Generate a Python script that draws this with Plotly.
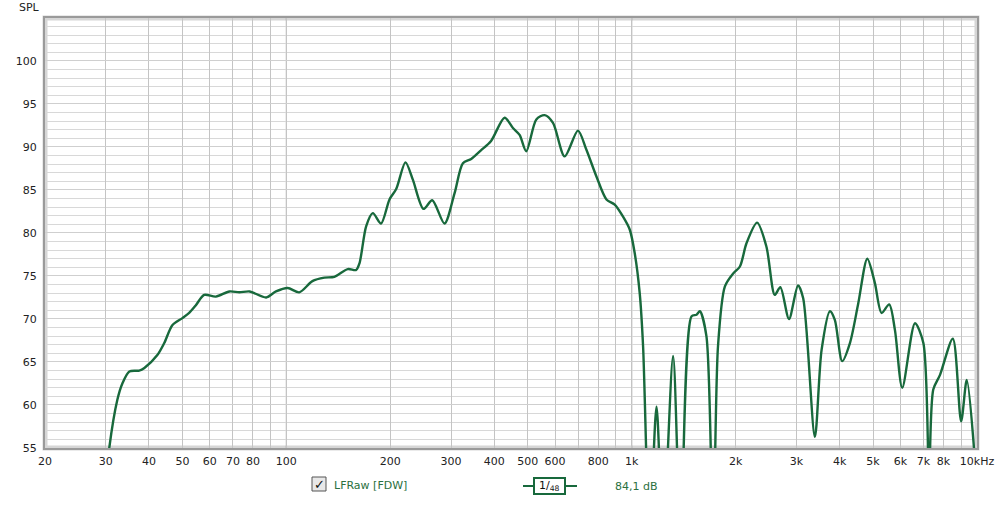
import plotly.graph_objects as go

# ---- data ----
freq_hz = [30.2, 30.7, 32.4, 33.5, 35.1, 37.5, 38.8, 42.3, 44.3, 46.8, 50.0, 52.3, 54.7, 57.8,
           62.5, 68.4, 73.1, 78.3, 87.4, 93.3, 100.9, 109, 119, 128.9, 137.7, 150.6, 159.3,
           162.9, 170.3, 178, 188, 198.9, 208, 221.3, 232.4, 249.5, 264.5, 287, 306.9, 324.5,
           343, 366, 391.6, 428.5, 453, 473.6, 495, 529.5, 559.6, 591.7, 639.7, 698.9, 739,
           790, 845, 893, 944, 987, 1020, 1055, 1079, 1127, 1180, 1233, 1318, 1387, 1490,
           1541, 1575, 1646, 1721, 1778, 1862, 1968, 2058, 2150, 2308, 2456, 2596, 2694,
           2855, 3032, 3138, 3392, 3548, 3750, 3875, 4070, 4286, 4530, 4812, 5060, 5292,
           5568, 5786, 6075, 6612, 6993, 7263, 7470, 7814, 8511, 8995, 9340, 9800, 10000]
spl_db = [52, 55.0, 60.6, 62.5, 63.9, 64.0, 64.3, 65.8, 67.2, 69.3, 70.1, 70.7, 71.6, 72.8,
          72.6, 73.2, 73.1, 73.2, 72.5, 73.2, 73.6, 73.1, 74.4, 74.8, 74.9, 75.8, 75.7,
          76.5, 80.8, 82.3, 81.1, 83.9, 85.1, 88.2, 86.2, 82.8, 83.8, 81.1, 84.6, 88.1,
          88.6, 89.6, 90.7, 93.4, 92.2, 91.4, 89.5, 93.2, 93.7, 92.8, 88.9, 91.9, 89.7,
          86.6, 83.9, 83.3, 81.9, 80.4, 77.7, 73.0, 66.8, 45, 59.8, 45, 65.7, 45, 70.3,
          70.5, 70.9, 68.0, 45, 66.8, 73.8, 75.3, 76.1, 78.8, 81.2, 78.4, 72.8, 73.7,
          70.0, 73.9, 72.4, 56.3, 66.4, 70.9, 69.9, 65.1, 67.2, 71.8, 77.0, 74.2, 70.7,
          71.7, 68.7, 62.0, 69.5, 67.2, 52, 61.8, 63.5, 67.7, 58.1, 62.9, 55, 48]

x_grid_vals = [20, 30, 40, 50, 60, 70, 80, 90, 100, 200, 300, 400, 500, 600, 700, 800, 900,
               1000, 2000, 3000, 4000, 5000, 6000, 7000, 8000, 9000, 10000]
x_grid_text = ["20", "30", "40", "50", "60", "70", "80", "", "100", "200", "300", "400", "500",
               "600", "", "800", "", "1k", "2k", "3k", "4k", "5k", "6k", "7k", "8k", "", "10kHz"]
y_tick_vals = [55, 60, 65, 70, 75, 80, 85, 90, 95, 100]
dark_grid = [100, 1000]

series_name = "LFRaw [FDW]"
smoothing_label = "1/<sub>48</sub>"
level_label = "84,1 dB"

GREEN = "#18693c"
FONT = "DejaVu Sans"

# plot area in pixels (from the reference)
L, R, T, B = 45, 977, 18, 448
PW, PH = R - L, B - T


def px(x):
    return (x - L) / PW


def py(y):
    return (B - y) / PH


fig = go.Figure()
fig.add_trace(go.Scatter(
    x=freq_hz, y=spl_db, mode="lines",
    line=dict(color=GREEN, width=2.4, shape="spline", smoothing=0.8),
    showlegend=False, hoverinfo="skip",
))

shapes = []
# light outer frame shadow
shapes.append(dict(type="rect", xref="paper", yref="paper", x0=0, x1=1, y0=0, y1=1,
                   line=dict(color="#d6d6d6", width=5), layer="below"))
for v in dark_grid:
    shapes.append(dict(type="line", xref="x", yref="paper", x0=v, x1=v, y0=0, y1=1,
                       line=dict(color="#7a7a7a", width=1), layer="between"))

# checkbox
shapes.append(dict(type="rect", xref="paper", yref="paper",
                   x0=px(312), x1=px(326), y0=py(491), y1=py(477),
                   line=dict(color="#555555", width=1), fillcolor="#e8e8e8"))
# smoothing symbol
shapes.append(dict(type="line", xref="paper", yref="paper",
                   x0=px(523), x1=px(577), y0=py(486), y1=py(486),
                   line=dict(color=GREEN, width=2)))
shapes.append(dict(type="rect", xref="paper", yref="paper",
                   x0=px(534), x1=px(565), y0=py(494), y1=py(478),
                   line=dict(color=GREEN, width=2), fillcolor="white"))

annotations = [
    dict(text="SPL", xref="paper", yref="paper", x=px(17), y=py(8),
         xanchor="left", yanchor="middle", showarrow=False,
         font=dict(family=FONT, size=11, color="#222222")),
    dict(text="<b>✓</b>", xref="paper", yref="paper", x=px(319), y=py(484),
         xanchor="center", yanchor="middle", showarrow=False,
         font=dict(family=FONT, size=13, color="#111111")),
    dict(text=series_name, xref="paper", yref="paper", x=px(332), y=py(485),
         xanchor="left", yanchor="middle", showarrow=False,
         font=dict(family=FONT, size=11, color="#2a7040")),
    dict(text=smoothing_label, xref="paper", yref="paper", x=px(549.5), y=py(486),
         xanchor="center", yanchor="middle", showarrow=False,
         font=dict(family=FONT, size=11, color="#111111")),
    dict(text=level_label, xref="paper", yref="paper", x=px(613), y=py(486),
         xanchor="left", yanchor="middle", showarrow=False,
         font=dict(family=FONT, size=11, color="#2a7040")),
]

fig.update_layout(
    width=1000, height=505,
    margin=dict(l=L, r=1000 - R, t=T, b=505 - B, autoexpand=False),
    paper_bgcolor="white", plot_bgcolor="white",
    shapes=shapes, annotations=annotations,
    font=dict(family=FONT, size=11, color="#222222"),
    xaxis=dict(type="log", range=[1.30103, 4.0], tickmode="array",
               tickvals=x_grid_vals, ticktext=x_grid_text, automargin=False,
               showgrid=True, gridcolor="#c4c4c4", gridwidth=1,
               zeroline=False, showline=True, linecolor="#9a9a9a", linewidth=2,
               mirror=True, ticks="", ticklabelstandoff=2),
    yaxis=dict(range=[55, 104.99], tickmode="array", tickvals=y_tick_vals, automargin=False,
               showgrid=True, gridcolor="#cfcfcf", gridwidth=1,
               minor=dict(dtick=1, tick0=55, showgrid=True, gridcolor="#d8d8d8", gridwidth=1),
               zeroline=False, showline=True, linecolor="#9a9a9a", linewidth=2,
               mirror=True, ticks="", ticklabelstandoff=4),
)

fig.write_html("out.html", config={"displayModeBar": False},
               post_script="document.body.style.margin='0';document.body.style.overflow='hidden';")
